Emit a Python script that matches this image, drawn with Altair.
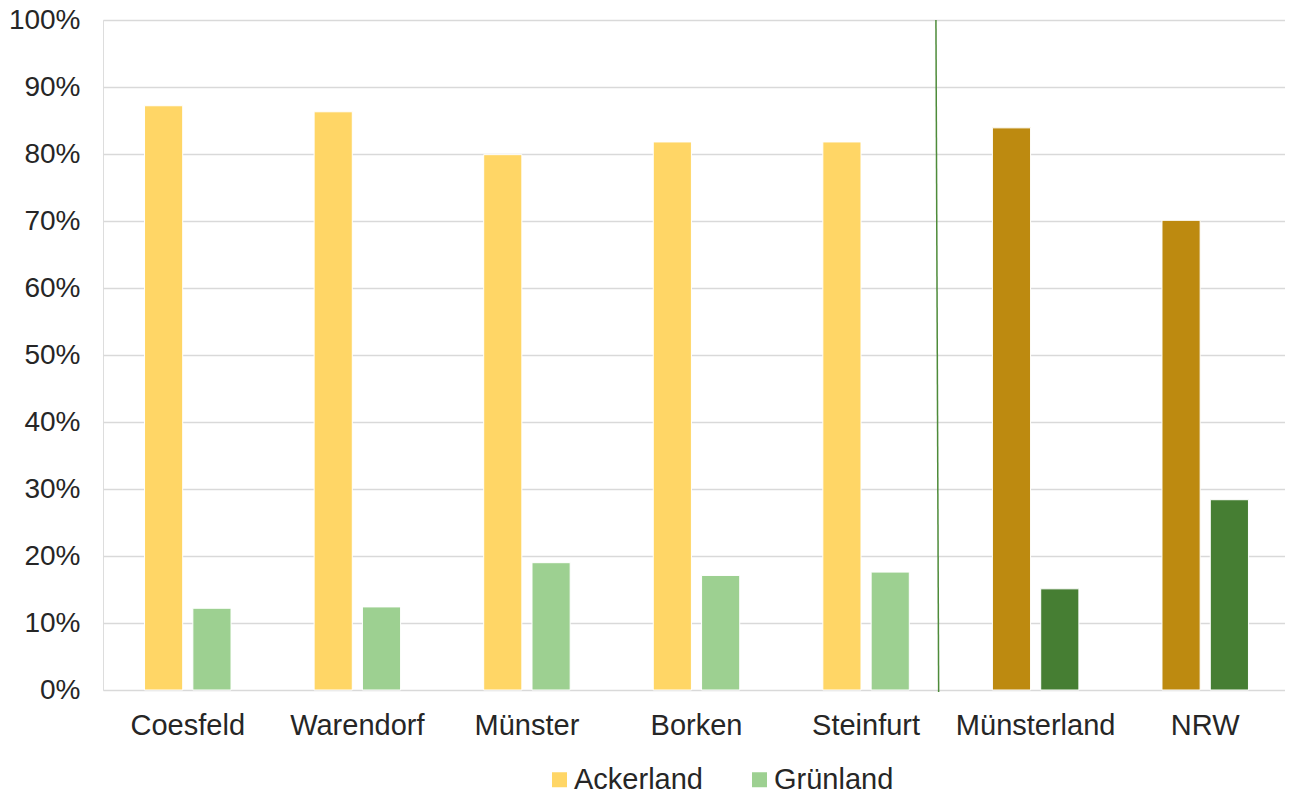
import altair as alt
import pandas as pd

categories = ["Coesfeld", "Warendorf", "Münster", "Borken", "Steinfurt", "Münsterland", "NRW"]
ackerland = [87.2, 86.3, 79.9, 81.8, 81.8, 83.9, 70.1]
gruenland = [12.2, 12.4, 19.0, 17.1, 17.6, 15.1, 28.4]
regional = [False, False, False, False, False, True, True]
series = ["Ackerland", "Grünland"]

# separator position, in category-step units (0 = left edge, 7 = right edge)
sep_top = [4.912]
sep_bottom = [4.928]

rows = []
for c, a, g, r in zip(categories, ackerland, gruenland, regional):
    for s, v in zip(series, [a, g]):
        rows.append({"Kreis": c, "Art": s, "Wert": v / 100.0,
                     "Farbe": s + (" (Region)" if r else "")})
df = pd.DataFrame(rows)

color_domain = ["Ackerland", "Grünland", "Ackerland (Region)", "Grünland (Region)"]
color_range = ["#FFD666", "#9DD091", "#BD8A10", "#467E33"]

FONT = "Liberation Sans"

x_enc = alt.X("Kreis:N", sort=categories, title=None,
              scale=alt.Scale(paddingInner=0.49, paddingOuter=0.245),
              axis=alt.Axis(labelAngle=0, labelFontSize=29, labelFont=FONT,
                            labelColor="#262626", labelPadding=21, ticks=False,
                            domain=False, grid=False))

y_scale = alt.Scale(domain=[0, 1], nice=False)

bars = alt.Chart(df).mark_bar(stroke="white", strokeWidth=1).encode(
    x=x_enc,
    xOffset=alt.XOffset("Art:N", sort=series, scale=alt.Scale(paddingInner=0.21)),
    y=alt.Y("Wert:Q", title=None, scale=y_scale,
            axis=alt.Axis(format=".0%", values=[i / 10 for i in range(11)],
                          labelFontSize=28, labelFont=FONT, labelColor="#262626",
                          labelPadding=23, ticks=False, domain=False,
                          gridColor="#D9D9D9", gridWidth=1.5)),
    color=alt.Color("Farbe:N",
                    scale=alt.Scale(domain=color_domain, range=color_range),
                    legend=alt.Legend(values=["Ackerland", "Grünland"], title=None,
                                      orient="none", direction="horizontal",
                                      legendX=442, legendY=745,
                                      labelFontSize=29, labelFont=FONT,
                                      labelColor="#262626", symbolType="square",
                                      symbolSize=225, symbolStrokeWidth=0,
                                      columnPadding=42, labelOffset=0)),
)

sep_df = pd.DataFrame({"xt": sep_top, "xb": sep_bottom, "top": [1.0], "bottom": [-0.003]})
sep = alt.Chart(sep_df).mark_rule(color="#4E8B3A", strokeWidth=1.5).encode(
    x=alt.X("xt:Q", scale=alt.Scale(domain=[0, 7], nice=False, zero=False), axis=None),
    x2="xb:Q",
    y=alt.Y("top:Q", scale=y_scale),
    y2="bottom:Q",
)

chart = alt.layer(bars, sep).resolve_scale(x="independent").properties(
    width=1187, height=670,
    autosize=alt.AutoSizeParams(type="none"),
    padding={"left": 95, "top": 12, "right": -5, "bottom": 108},
).configure_view(stroke=None).configure(font=FONT)

chart.save("out.html", embed_options={"renderer": "svg", "actions": False})
